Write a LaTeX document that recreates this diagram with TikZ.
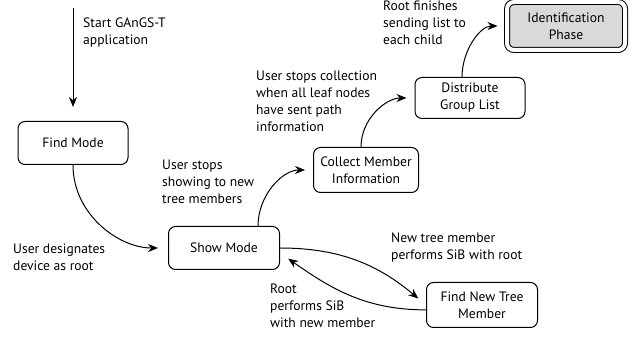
\documentclass[tikz,border=0pt]{standalone}
\usepackage{fontspec}
\setmainfont{PT Sans}
\usetikzlibrary{arrows.meta}

\begin{document}
\begin{tikzpicture}[x=1pt,y=1pt,
    font=\fontsize{13.6}{17}\selectfont,
    modebox/.style={draw,line width=1pt,rounded corners=7pt,align=center,
        minimum width=110pt,minimum height=43pt,inner sep=2pt},
    note/.style={anchor=base west,align=left,inner sep=0pt},
    flow/.style={line width=1pt,-{Stealth[length=10pt,width=8pt]}}]

\useasboundingbox (0,0) rectangle (636,339);

% states
\node[modebox] (findmode) at (73,196) {Find Mode};
\node[modebox,minimum width=111pt] (showmode) at (224,91) {Show Mode};
\node[modebox,minimum width=105pt,minimum height=45pt] (collect) at (366,169) {Collect Member\\Information};
\node[modebox,minimum height=41pt] (distribute) at (470,241) {Distribute\\Group List};
\node[modebox,minimum width=111pt,minimum height=45pt] (findnew) at (482,34) {Find New Tree\\Member};
\node[modebox,minimum width=118pt,minimum height=48pt,fill=black!15,
      double,double distance=4pt] (ident) at (566,313) {Identification\\Phase};

\coordinate (start) at (73,331);

% transition texts (placed at the baseline of their last line)
\node[note] (starttext) at (83,294) {Start GAnGS-T\\application};
\node[note] (designate) at (13,68) {User designates\\device as root};
\node[note] (stopshow) at (162,135) {User stops\\showing to new\\tree members};
\node[note] (stopcollect) at (256,207) {User stops collection\\when all leaf nodes\\have sent path\\information};
\node[note] (rootdone) at (383,294) {Root finishes\\sending list to\\each child};
\node[note] (newsib) at (391,79) {New tree member\\performs SiB with root};
\node[note] (rootsib) at (270,11) {Root\\performs SiB\\with new member};

% transitions
\draw[flow,shorten >=14pt] (start) -- (findmode.north);
\draw[flow,shorten >=10pt] (findmode.south) to[out=-90,in=180] (showmode.west);
\draw[flow,shorten >=8pt] ([xshift=34pt]showmode.north) to[out=90,in=180] (collect.west);
\draw[flow,shorten >=8pt] ([xshift=-5pt]collect.north) to[out=90,in=180] (distribute.west);
\draw[flow,shorten >=9pt] ([xshift=-8pt]distribute.north) to[out=90,in=180] (ident.west);
\draw[flow,shorten >=10pt] (showmode.east) to[out=0,in=140] (findnew.west);
\draw[flow,shorten >=10pt] (findnew.185) to[out=180,in=-35] (showmode.-5);

\end{tikzpicture}
\end{document}
